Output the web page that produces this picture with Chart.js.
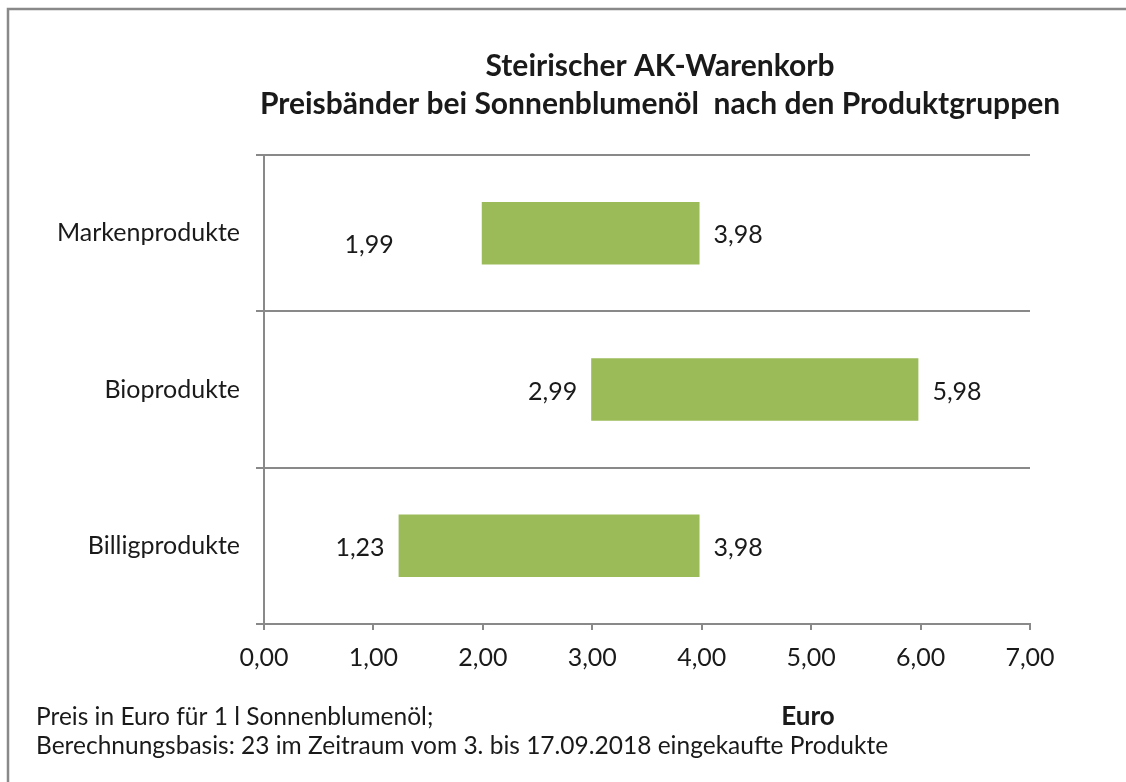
<!DOCTYPE html>
<html>
<head>
<meta charset="utf-8">
<script src="https://cdn.jsdelivr.net/npm/chart.js@4/dist/chart.umd.min.js"></script>
<style>
  body { margin: 0; background: #ffffff; }
  #wrap { width: 1126px; height: 782px; }
</style>
</head>
<body>
<div id="wrap"><canvas id="chart" width="1126" height="782"></canvas></div>
<script>
// ===== DATA =====
const categories = ['Markenprodukte', 'Bioprodukte', 'Billigprodukte'];
const minPrices = [1.99, 2.99, 1.23];
const maxPrices = [3.98, 5.98, 3.98];
const titleLines = ['Steirischer AK-Warenkorb', 'Preisbänder bei Sonnenblumenöl  nach den Produktgruppen'];
const axisTitle = 'Euro';
const footnotes = [
    'Preis in Euro für 1 l Sonnenblumenöl;',
    'Berechnungsbasis: 23 im Zeitraum vom 3. bis 17.09.2018 eingekaufte Produkte'
];

const FONT = 'Lato, "Open Sans", sans-serif';
const GREY = '#898989';
const TEXT = '#1a1a1a';

function fmt(v) {
    return v.toFixed(2).replace('.', ',');
}

// frame, titles, footnotes
const decorPlugin = {
    id: 'decor',
    beforeDraw(chart) {
        const ctx = chart.ctx;
        ctx.save();
        ctx.fillStyle = '#ffffff';
        ctx.fillRect(0, 0, chart.width, chart.height);
        ctx.strokeStyle = GREY;
        ctx.lineWidth = 2.5;
        ctx.strokeRect(8, 9, 1200, 1000);
        ctx.restore();
    },
    afterDraw(chart) {
        const ctx = chart.ctx;
        ctx.save();
        ctx.fillStyle = TEXT;
        ctx.textBaseline = 'middle';
        ctx.textAlign = 'center';
        ctx.font = 'bold 30px ' + FONT;
        ctx.fillText(titleLines[0], 660, 66);
        ctx.fillText(titleLines[1], 660, 104);

        ctx.font = 'bold 26px ' + FONT;
        ctx.fillText(axisTitle, 808, 717);

        ctx.textAlign = 'left';
        ctx.font = '24.5px ' + FONT;
        ctx.fillText(footnotes[0], 36, 717);
        ctx.fillText(footnotes[1], 36, 746);
        ctx.restore();
    }
};

// value labels beside each bar
const labelPlugin = {
    id: 'barLabels',
    afterDatasetsDraw(chart) {
        const ctx = chart.ctx;
        const meta = chart.getDatasetMeta(0);
        const xs = chart.scales.x;
        ctx.save();
        ctx.font = '25px ' + FONT;
        ctx.fillStyle = TEXT;
        ctx.textBaseline = 'middle';
        meta.data.forEach((bar, i) => {
            const start = xs.getPixelForValue(minPrices[i]);
            const end = xs.getPixelForValue(maxPrices[i]);
            ctx.textAlign = 'left';
            ctx.fillText(fmt(maxPrices[i]), end + 14, bar.y + 2);
            ctx.textAlign = 'right';
            if (i === 0) {
                // excel put this one further left and lower
                ctx.fillText(fmt(minPrices[i]), start - 88, bar.y + 12);
            } else {
                ctx.fillText(fmt(minPrices[i]), start - 14, bar.y + 2);
            }
        });
        ctx.restore();
    }
};

const ctx = document.getElementById('chart').getContext('2d');
const chart = new Chart(ctx, {
    type: 'bar',
    data: {
        labels: categories,
        datasets: [{
            data: categories.map((c, i) => [minPrices[i], maxPrices[i]]),
            backgroundColor: '#9bbb59',
            borderWidth: 0,
            borderSkipped: false,
            barPercentage: 0.4,
            categoryPercentage: 1.0
        }]
    },
    options: {
        indexAxis: 'y',
        responsive: false,
        animation: false,
        layout: {
            padding: { top: 155, right: 96, left: 0, bottom: 0 }
        },
        plugins: {
            legend: { display: false },
            tooltip: { enabled: false }
        },
        scales: {
            x: {
                type: 'linear',
                min: 0,
                max: 7,
                ticks: {
                    stepSize: 1,
                    color: TEXT,
                    font: { family: FONT, size: 25 },
                    padding: 13,
                    callback: (v) => fmt(v)
                },
                grid: {
                    drawOnChartArea: false,
                    drawTicks: true,
                    tickLength: 6,
                    color: GREY,
                    lineWidth: 2
                },
                border: { display: true, color: GREY, width: 2 },
                afterFit(scale) { scale.height = 158; }
            },
            y: {
                type: 'category',
                ticks: {
                    color: TEXT,
                    font: { family: FONT, size: 25 },
                    padding: 16
                },
                grid: {
                    offset: true,
                    drawOnChartArea: true,
                    drawTicks: true,
                    tickLength: 8,
                    color: GREY,
                    lineWidth: 2
                },
                border: { display: true, color: GREY, width: 2 },
                afterFit(scale) { scale.width = 264; }
            }
        }
    },
    plugins: [decorPlugin, labelPlugin]
});
</script>
</body>
</html>
